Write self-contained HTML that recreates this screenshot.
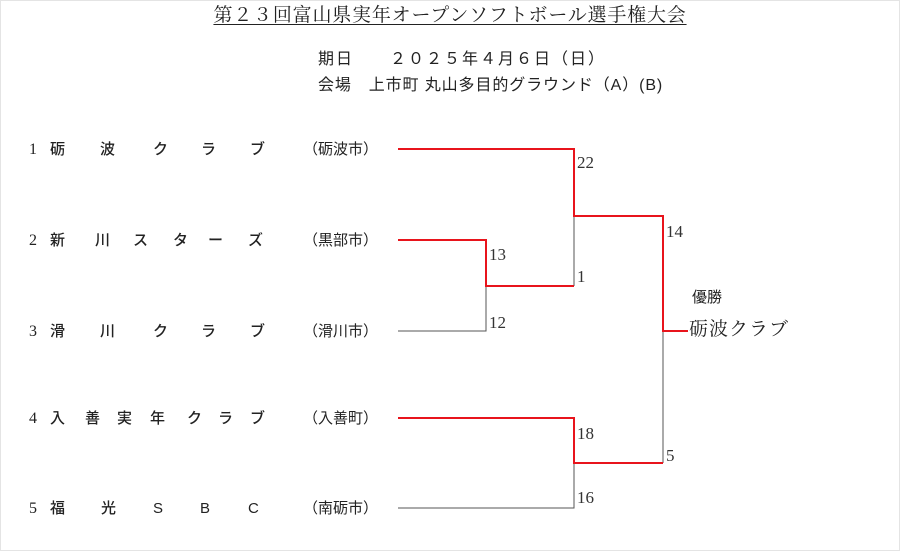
<!DOCTYPE html>
<html><head><meta charset="utf-8"><style>
body{margin:0;width:900px;height:551px;background:#fff;position:relative;overflow:hidden;font-family:"Liberation Sans","Noto Sans CJK JP",sans-serif;color:#222}
.a{position:absolute;white-space:nowrap;line-height:1}
.t{font-family:"Liberation Serif","Noto Serif CJK SC",serif;font-size:19px;left:205px;top:6px;width:490px;text-align:center;text-decoration:underline;text-underline-offset:3px;letter-spacing:0.8px}
.n{font-family:"Liberation Serif",serif;font-size:16px}
.c{font-size:15px;font-weight:500}
.city{font-size:15px;left:303px}
.s{font-family:"Liberation Serif",serif;font-size:17px;color:#333}
</style></head><body>
<div style="position:absolute;left:0;top:0;width:898px;height:549px;border:1px solid #e4e4e4"></div>
<div class="a t">第２３回富山県実年オープンソフトボール選手権大会</div>
<div class="a" style="left:318px;top:52px;font-size:16px;letter-spacing:2.0px">期日　　２０２５年４月６日（日）</div>
<div class="a" style="left:318px;top:78px;font-size:16px;letter-spacing:0.9px">会場　上市町 丸山多目的グラウンド（A）(B)</div>

<div class="a n" style="left:29px;top:142px">1</div>
<div class="a c" style="left:50px;top:142px">砺</div><div class="a c" style="left:100px;top:142px">波</div><div class="a c" style="left:153px;top:142px">ク</div><div class="a c" style="left:201px;top:142px">ラ</div><div class="a c" style="left:250px;top:142px">ブ</div>
<div class="a city" style="top:142px">（砺波市）</div>

<div class="a n" style="left:29px;top:233px">2</div>
<div class="a c" style="left:50px;top:233px">新</div><div class="a c" style="left:95px;top:233px">川</div><div class="a c" style="left:133px;top:233px">ス</div><div class="a c" style="left:173px;top:233px">タ</div><div class="a c" style="left:208px;top:233px">ー</div><div class="a c" style="left:248px;top:233px">ズ</div>
<div class="a city" style="top:233px">（黒部市）</div>

<div class="a n" style="left:29px;top:324px">3</div>
<div class="a c" style="left:50px;top:324px">滑</div><div class="a c" style="left:100px;top:324px">川</div><div class="a c" style="left:153px;top:324px">ク</div><div class="a c" style="left:201px;top:324px">ラ</div><div class="a c" style="left:250px;top:324px">ブ</div>
<div class="a city" style="top:324px">（滑川市）</div>

<div class="a n" style="left:29px;top:411px">4</div>
<div class="a c" style="left:50px;top:411px">入</div><div class="a c" style="left:85px;top:411px">善</div><div class="a c" style="left:117px;top:411px">実</div><div class="a c" style="left:150px;top:411px">年</div><div class="a c" style="left:187px;top:411px">ク</div><div class="a c" style="left:218px;top:411px">ラ</div><div class="a c" style="left:250px;top:411px">ブ</div>
<div class="a city" style="top:411px">（入善町）</div>

<div class="a n" style="left:29px;top:501px">5</div>
<div class="a c" style="left:50px;top:501px">福</div><div class="a c" style="left:101px;top:501px">光</div><div class="a c" style="left:153px;top:501px;font-weight:normal">S</div><div class="a c" style="left:200px;top:501px;font-weight:normal">B</div><div class="a c" style="left:248px;top:501px;font-weight:normal">C</div>
<div class="a city" style="top:501px">（南砺市）</div>

<svg style="position:absolute;left:0;top:0" width="900" height="551">
<g fill="none" stroke="#555" stroke-width="1">
<polyline points="398,331 486,331 486,286"/>
<line x1="574" y1="216" x2="574" y2="286"/>
<line x1="663" y1="331" x2="663" y2="463"/>
<polyline points="398,508 574,508 574,463"/>
</g>
<g fill="none" stroke="#e8141c" stroke-width="2">
<polyline points="398,149 574,149 574,216 663,216 663,331 688,331"/>
<polyline points="398,240 486,240 486,286 574,286"/>
<polyline points="398,418 574,418 574,463 663,463"/>
</g>
</svg>
<div class="a s" style="left:577px;top:154px">22</div>
<div class="a s" style="left:666px;top:223px">14</div>
<div class="a s" style="left:489px;top:246px">13</div>
<div class="a s" style="left:577px;top:268px">1</div>
<div class="a s" style="left:489px;top:314px">12</div>
<div class="a s" style="left:577px;top:425px">18</div>
<div class="a s" style="left:666px;top:447px">5</div>
<div class="a s" style="left:577px;top:489px">16</div>
<div class="a" style="left:692px;top:290px;font-size:15px">優勝</div>
<div class="a" style="left:689px;top:320px;font-size:19px;font-family:'Liberation Serif','Noto Serif CJK SC',serif;letter-spacing:1px">砺波クラブ</div>
</body></html>
